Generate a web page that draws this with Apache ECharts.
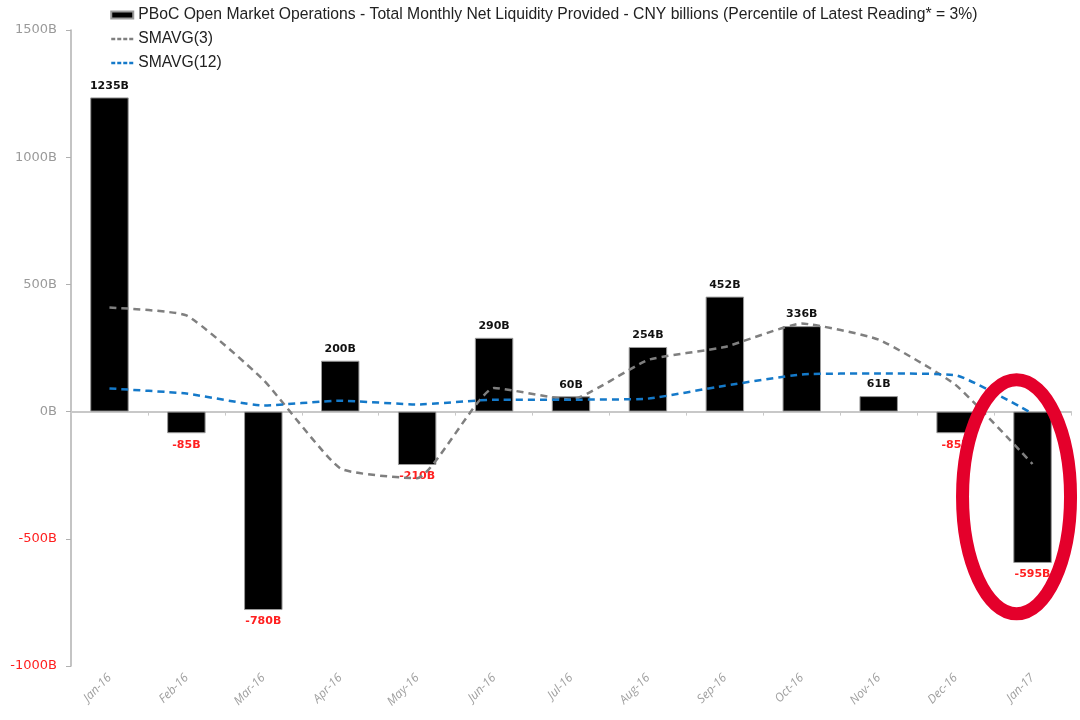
<!DOCTYPE html>
<html><head><meta charset="utf-8">
<script src="https://cdn.jsdelivr.net/npm/echarts@6/dist/echarts.min.js"></script>
<style>html,body{margin:0;padding:0;background:#fff}#c{width:1080px;height:720px}</style>
</head><body><div id="c"></div>
<script>
const categories = ['Jan-16','Feb-16','Mar-16','Apr-16','May-16','Jun-16','Jul-16','Aug-16','Sep-16','Oct-16','Nov-16','Dec-16','Jan-17'];
const netLiquidity = [1235, -85, -780, 200, -210, 290, 60, 254, 452, 336, 61, -85, -595];
const smavg3 = [409, 378, 125, -223, -262, 93, 47, 203, 254, 346, 283, 105, -206];
const smavg12 = [91, 71, 24, 43, 28, 47, 47, 51, 102, 146, 150, 143, -8];
const yTicks = [-1000, -500, 0, 500, 1000, 1500];
const seriesNames = ['PBoC Open Market Operations - Total Monthly Net Liquidity Provided - CNY billions (Percentile of Latest Reading* = 3%)', 'SMAVG(3)', 'SMAVG(12)'];

// pick a legend font size so the long name spans about as wide as in the reference
const legendFont = 'Liberation Sans';
const cv = document.createElement('canvas').getContext('2d');
cv.font = '100px "' + legendFont + '"';
let legendSize = 840 / cv.measureText(seriesNames[0]).width * 100;
legendSize = Math.max(12, Math.min(17, legendSize));

const chart = echarts.init(document.getElementById('c'));
const labelFont = 'DejaVu Sans';
const hideSym = {color: 'transparent', borderWidth: 0, opacity: 0};
chart.setOption({
  animation: false,
  backgroundColor: '#fff',
  grid: {left: 71, right: 9, top: 30, bottom: 54},
  legend: {
    orient: 'vertical', left: 105, top: 2, itemGap: 8,
    itemWidth: 22, itemHeight: 7,
    textStyle: {fontFamily: legendFont, fontSize: legendSize, color: '#222'},
    data: [
      {name: seriesNames[0], icon: 'rect'},
      {name: seriesNames[1], itemStyle: hideSym, lineStyle: {type: [4, 2], width: 2.5}},
      {name: seriesNames[2], itemStyle: hideSym, lineStyle: {type: [4, 2], width: 2.5}}
    ]
  },
  xAxis: [{
    type: 'category', data: categories,
    axisLine: {onZero: true, lineStyle: {color: '#c8c8c8', width: 2}},
    axisTick: {show: true, length: 4, lineStyle: {color: '#c8c8c8'}},
    axisLabel: {show: false}
  }, {
    type: 'category', data: categories, position: 'bottom',
    axisLine: {show: false, onZero: false}, axisTick: {show: false},
    axisLabel: {rotate: 45, color: '#a0a0a0', fontSize: 12, fontFamily: 'Open Sans', fontStyle: 'italic', margin: 10}
  }],
  yAxis: {
    type: 'value', min: yTicks[0], max: yTicks[yTicks.length - 1], interval: 500,
    splitLine: {show: false},
    axisLine: {show: true, lineStyle: {color: '#b0b0b0', width: 1.5}},
    axisTick: {show: true, length: 5, lineStyle: {color: '#b0b0b0'}},
    axisLabel: {
      fontFamily: labelFont, fontSize: 13, margin: 14,
      formatter: v => v + 'B',
      color: v => (Number(v) < 0 ? '#ff2020' : '#9a9a9a')
    }
  },
  series: [{
    name: seriesNames[0], type: 'bar', xAxisIndex: 0, barWidth: '50%',
    data: netLiquidity.map(v => v < 0
      ? {value: v, label: {position: 'bottom', color: '#ff2020'}}
      : {value: v, label: {position: 'top', color: '#111'}}),
    itemStyle: {color: '#000', borderColor: '#9a9a9a', borderWidth: 1},
    label: {
      show: true, fontFamily: labelFont, fontSize: 11, fontWeight: 'bold', distance: 6,
      formatter: p => p.value + 'B'
    }
  }, {
    name: seriesNames[1], type: 'line', data: smavg3, symbol: 'none', smooth: 0.15, z: 5,
    lineStyle: {color: '#7f7f7f', width: 2.5, type: [7, 5]},
    itemStyle: {color: '#7f7f7f'}
  }, {
    name: seriesNames[2], type: 'line', data: smavg12, symbol: 'none', smooth: 0.15, z: 5,
    lineStyle: {color: '#1479c9', width: 2.5, type: [7, 5]},
    itemStyle: {color: '#1479c9'}
  }]
});
const ecx = chart.convertToPixel({xAxisIndex: 0}, categories[categories.length - 1]);
const eTop = chart.convertToPixel({yAxisIndex: 0}, 125);
const eBot = chart.convertToPixel({yAxisIndex: 0}, -795);
chart.setOption({graphic: [{
  type: 'ellipse', shape: {cx: ecx - 16, cy: (eTop + eBot) / 2, rx: 54, ry: (eBot - eTop) / 2},
  style: {fill: 'none', stroke: '#e4002b', lineWidth: 13}, z: 100
}]});
</script></body></html>
